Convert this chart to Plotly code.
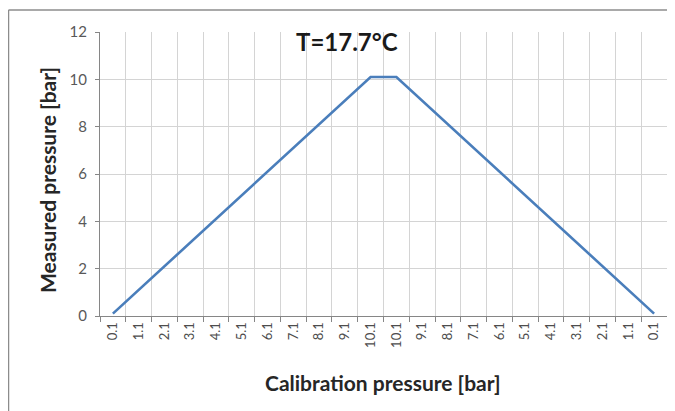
import plotly.graph_objects as go

categories = ["0.1", "1.1", "2.1", "3.1", "4.1", "5.1", "6.1", "7.1", "8.1", "9.1", "10.1",
              "10.1", "9.1", "8.1", "7.1", "6.1", "5.1", "4.1", "3.1", "2.1", "1.1", "0.1"]
measured = [0.1, 1.1, 2.1, 3.1, 4.1, 5.1, 6.1, 7.1, 8.1, 9.1, 10.1,
            10.1, 9.1, 8.1, 7.1, 6.1, 5.1, 4.1, 3.1, 2.1, 1.1, 0.1]
y_ticks = [0, 2, 4, 6, 8, 10, 12]

idx = list(range(len(categories)))
n = len(categories)
bounds = [i - 0.5 for i in range(n + 1)]

# page body has an 8px margin; work in window coordinates and shift
OFF = 8
WIN_W, WIN_H = 675, 411
W, H = WIN_W - OFF, WIN_H - OFF
PL, PR, PT, PB = 100, 667, 32, 316          # plot area in window px
L, R, T, B = PL - OFF, WIN_W - PR, PT - OFF, WIN_H - PB
pw, ph = PR - PL, PB - PT

def px(x):
    return (x - PL) / pw

def py(y):
    return (PB - y) / ph

FONT = "Lato"
grid = "#d4d4d4"

fig = go.Figure()
fig.add_trace(go.Scatter(x=idx, y=measured, mode="lines",
                         line=dict(color="#4a7ebb", width=2.6),
                         hoverinfo="skip", showlegend=False))

fig.update_layout(
    width=W, height=H,
    margin=dict(l=L, r=R, t=T, b=B, autoexpand=False),
    paper_bgcolor="white", plot_bgcolor="white",
    font=dict(family=FONT, color="#595959"),
    showlegend=False,
    xaxis=dict(
        range=[-0.5, n - 0.5],
        tickmode="array", tickvals=idx, ticktext=categories,
        tickangle=-90, ticks="", showgrid=False,
        tickfont=dict(size=13, color="#4d4d4d"),
        showline=True, linecolor="#868686", linewidth=1,
        zeroline=False,
        minor=dict(tickmode="array", tickvals=bounds, showgrid=True,
                   gridcolor=grid, gridwidth=1, ticks="outside",
                   ticklen=5, tickcolor="#868686"),
    ),
    yaxis=dict(
        range=[0, 12], tickmode="array", tickvals=y_ticks,
        showgrid=True, gridcolor=grid, gridwidth=1,
        ticks="outside", ticklen=4, tickcolor="#868686",
        tickfont=dict(size=15, color="#595959"),
        showline=True, linecolor="#868686", linewidth=1,
        zeroline=False, ticklabelstandoff=5,
    ),
    shapes=[
        dict(type="line", xref="paper", yref="paper",
             x0=px(8.5), x1=px(WIN_W + 5), y0=py(10), y1=py(10),
             line=dict(color="#8c8c8c", width=1.5)),
        dict(type="line", xref="paper", yref="paper",
             x0=px(8.5), x1=px(8.5), y0=py(10), y1=py(WIN_H + 5),
             line=dict(color="#8c8c8c", width=1.5)),
    ],
    annotations=[
        dict(text="<b>T=17.7°C</b>", xref="paper", yref="paper",
             x=px(347), y=py(42), showarrow=False,
             xanchor="center", yanchor="middle",
             font=dict(family=FONT, size=24, color="#1a1a1a")),
        dict(text="<b>Measured pressure [bar]</b>", xref="paper", yref="paper",
             x=px(47), y=py(180), showarrow=False, textangle=-90,
             xanchor="center", yanchor="middle",
             font=dict(family=FONT, size=21, color="#262626")),
        dict(text="<b>Calibration pressure [bar]</b>", xref="paper", yref="paper",
             x=px(383), y=py(382), showarrow=False,
             xanchor="center", yanchor="middle",
             font=dict(family=FONT, size=21, color="#262626")),
    ],
)

fig.write_html("out.html")
